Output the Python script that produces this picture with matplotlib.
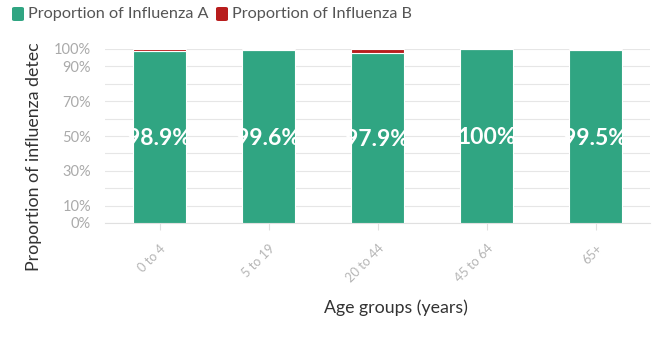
import matplotlib
matplotlib.use("Agg")
import matplotlib.pyplot as plt
from matplotlib.patches import FancyBboxPatch
import numpy as np

categories = ["0 to 4", "5 to 19", "20 to 44", "45 to 64", "65+"]
influenza_a = [98.9, 99.6, 97.9, 100.0, 99.5]
influenza_b = [1.1, 0.4, 2.1, 0.0, 0.5]
value_labels = ["98.9%", "99.6%", "97.9%", "100%", "99.5%"]
ytick_vals = [0, 10, 20, 30, 40, 50, 60, 70, 80, 90, 100]
ytick_labels = ["0%", "10%", "", "30%", "", "50%", "", "70%", "", "90%", "100%"]

plt.rcParams['font.family'] = ['Lato', 'DejaVu Sans']

green = "#30a582"
red = "#b81d1d"

fig = plt.figure(figsize=(6.6, 3.45), dpi=100)
ax = fig.add_axes([105/660, 122/345, (650-105)/660, 174/345])

x = np.arange(len(categories))
ax.bar(x, influenza_a, width=0.48, color=green, edgecolor="white", linewidth=0.8, zorder=3)
ax.bar(x, influenza_b, bottom=influenza_a, width=0.48, color=red, edgecolor="white", linewidth=0.8, zorder=3)

for xi, a, lab in zip(x, influenza_a, value_labels):
    ax.text(xi, a / 2 - 1, lab, ha="center", va="center", color="white",
            fontsize=16.5, fontweight="bold", zorder=4)

ax.set_xlim(-0.5, len(categories) - 0.5)
ax.set_ylim(0, 100)
ax.set_yticks(ytick_vals)
ax.set_yticklabels(ytick_labels)
ax.grid(axis="y", color="#e6e6e6", linewidth=0.8, zorder=0)
for s in ["top", "right", "left"]:
    ax.spines[s].set_visible(False)
ax.spines["bottom"].set_color("#e0e0e0")
ax.tick_params(axis="y", length=0, labelsize=10.5, labelcolor="#aaaaaa", pad=10)
ax.set_xticks(x)
ax.set_xticklabels(categories, rotation=45, ha="right", rotation_mode="anchor")
ax.tick_params(axis="x", length=5, color="#e0e0e0", labelsize=9.2, labelcolor="#b5b5b5", pad=9)

ax.set_ylabel("Proportion of influenza detec", fontsize=12.8, color="#333333")
ax.set_xlabel("Age groups (years)", fontsize=12.8, color="#333333")
ax.yaxis.set_label_coords(-0.115, 0.38)
ax.xaxis.set_label_coords(0.534, -0.44)

# legend
for lx, col, txt in [(12, green, "Proportion of Influenza A"), (216, red, "Proportion of Influenza B")]:
    patch = FancyBboxPatch((lx/660, (345-21)/345), 12/660, 14/345,
                           boxstyle="round,pad=0,rounding_size=0.004",
                           transform=fig.transFigure, facecolor=col, edgecolor="none")
    fig.patches.append(patch)
    fig.text((lx + 16)/660, (345-14)/345, txt, ha="left", va="center",
             fontsize=11.7, color="#555555")

fig.savefig("out.png", dpi=100)
